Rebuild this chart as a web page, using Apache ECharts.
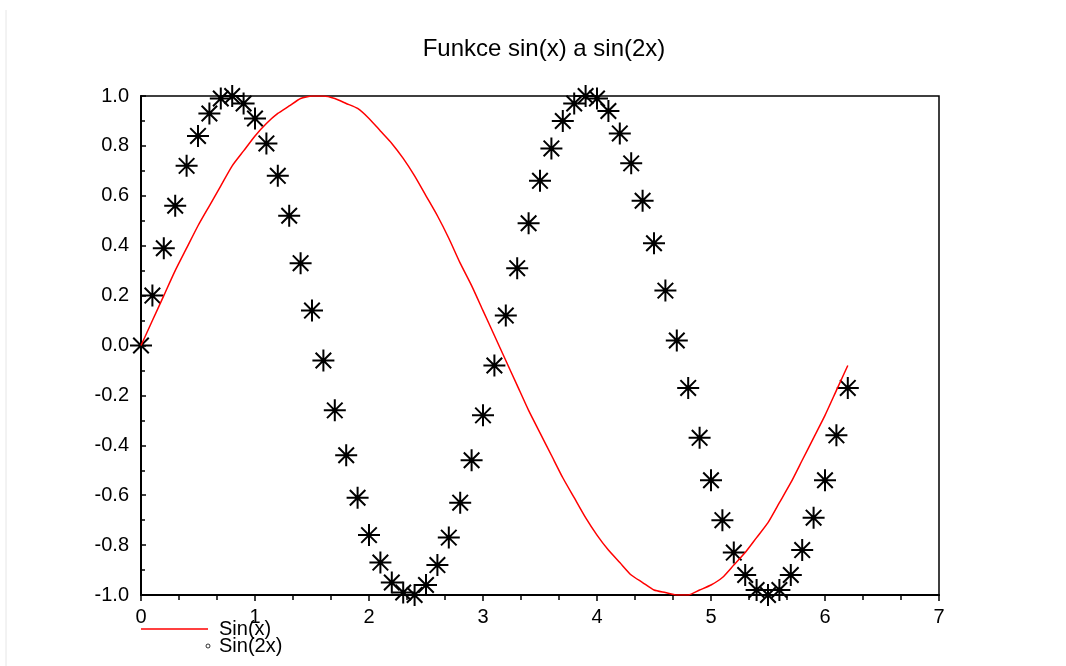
<!DOCTYPE html>
<html>
<head>
<meta charset="utf-8">
<script src="https://cdn.jsdelivr.net/npm/echarts@6/dist/echarts.min.js"></script>
<style>
  html, body { margin: 0; padding: 0; background: #fff; }
  #chart { width: 1066px; height: 666px; }
</style>
</head>
<body>
<div id="chart"></div>
<script>
// x values, step 0.1
var xs = [0.0, 0.1, 0.2, 0.3, 0.4, 0.5, 0.6, 0.7, 0.8, 0.9,
          1.0, 1.1, 1.2, 1.3, 1.4, 1.5, 1.6, 1.7, 1.8, 1.9,
          2.0, 2.1, 2.2, 2.3, 2.4, 2.5, 2.6, 2.7, 2.8, 2.9,
          3.0, 3.1, 3.2, 3.3, 3.4, 3.5, 3.6, 3.7, 3.8, 3.9,
          4.0, 4.1, 4.2, 4.3, 4.4, 4.5, 4.6, 4.7, 4.8, 4.9,
          5.0, 5.1, 5.2, 5.3, 5.4, 5.5, 5.6, 5.7, 5.8, 5.9,
          6.0, 6.1, 6.2];

// Sin(x) - red line
var sinX = [0.00, 0.10, 0.20, 0.30, 0.39, 0.48, 0.56, 0.64, 0.72, 0.78,
            0.84, 0.89, 0.93, 0.96, 0.99, 1.00, 1.00, 0.99, 0.97, 0.95,
            0.91, 0.86, 0.81, 0.75, 0.68, 0.60, 0.52, 0.43, 0.33, 0.24,
            0.14, 0.04, -0.06, -0.16, -0.26, -0.35, -0.44, -0.53, -0.61, -0.69,
            -0.76, -0.82, -0.87, -0.92, -0.95, -0.98, -0.99, -1.00, -1.00, -0.98,
            -0.96, -0.93, -0.88, -0.83, -0.77, -0.71, -0.63, -0.55, -0.46, -0.37,
            -0.28, -0.18, -0.08];

// Sin(2x) - star markers
var sin2X = [0.00, 0.20, 0.39, 0.56, 0.72, 0.84, 0.93, 0.99, 1.00, 0.97,
             0.91, 0.81, 0.68, 0.52, 0.33, 0.14, -0.06, -0.26, -0.44, -0.61,
             -0.76, -0.87, -0.95, -0.99, -1.00, -0.96, -0.88, -0.77, -0.63, -0.46,
             -0.28, -0.08, 0.12, 0.31, 0.49, 0.66, 0.79, 0.90, 0.97, 1.00,
             0.99, 0.94, 0.85, 0.73, 0.58, 0.41, 0.22, 0.02, -0.17, -0.37,
             -0.54, -0.70, -0.83, -0.92, -0.98, -1.00, -0.98, -0.92, -0.82, -0.69,
             -0.54, -0.36, -0.17];

var seriesNames = ['Sin(x)', 'Sin(2x)'];

function pairs(xv, yv) {
    var out = [];
    for (var i = 0; i < xv.length; i++) out.push([xv[i], yv[i]]);
    return out;
}

var chart = echarts.init(document.getElementById('chart'));
var font = 'Liberation Sans, Arial, sans-serif';
var star = 'path://M0,-10L0,10M-10,0L10,0M-7.07,-7.07L7.07,7.07M-7.07,7.07L7.07,-7.07';

var option = {
    animation: false,
    backgroundColor: '#fff',
    title: {
        text: 'Funkce sin(x) a sin(2x)',
        left: 539,
        textAlign: 'center',
        top: 32,
        textStyle: { fontFamily: font, fontSize: 24, fontWeight: 'normal', color: '#000' }
    },
    grid: {
        left: 141, right: 127, top: 96, bottom: 71,
        show: true, borderColor: '#000', borderWidth: 1.5, backgroundColor: 'transparent'
    },
    xAxis: {
        type: 'value', min: 0, max: 7, interval: 1,
        axisLine: { onZero: false, lineStyle: { color: '#000', width: 2 } },
        axisTick: { inside: false, length: 6, lineStyle: { color: '#000', width: 1.5 } },
        minorTick: { show: true, splitNumber: 3, length: 5, lineStyle: { color: '#000', width: 1.5 } },
        splitLine: { show: false },
        axisLabel: { fontFamily: font, fontSize: 20, color: '#000', margin: 12 }
    },
    yAxis: {
        type: 'value', min: -1, max: 1, interval: 0.2,
        axisLine: { show: true, onZero: false, lineStyle: { color: '#000', width: 2 } },
        axisTick: { show: true, inside: true, length: 5, lineStyle: { color: '#000', width: 1.5 } },
        minorTick: { show: true, splitNumber: 2, length: 4, lineStyle: { color: '#000', width: 1.5 } },
        splitLine: { show: false },
        axisLabel: {
            fontFamily: font, fontSize: 20, color: '#000', margin: 12,
            formatter: function (v) { return v.toFixed(1); }
        }
    },
    series: [
        {
            name: seriesNames[0],
            type: 'line',
            data: pairs(xs, sinX),
            showSymbol: false,
            smooth: 0.2,
            lineStyle: { color: '#ff0000', width: 1.5 },
            z: 3
        },
        {
            name: seriesNames[1],
            type: 'scatter',
            data: pairs(xs, sin2X),
            symbol: star,
            symbolSize: 22,
            itemStyle: { color: 'none', borderColor: '#000', borderWidth: 2, opacity: 1 },
            z: 2
        }
    ],
    graphic: [
        { type: 'line', shape: { x1: 6, y1: 10, x2: 6, y2: 666 }, style: { stroke: '#e6e6e6', lineWidth: 1 } },
        { type: 'line', shape: { x1: 141, y1: 629, x2: 208, y2: 629 }, style: { stroke: '#ff0000', lineWidth: 1.5 } },
        { type: 'text', left: 219, top: 619, style: { text: seriesNames[0], font: '20px ' + font, fill: '#000' } },
        { type: 'circle', shape: { cx: 208, cy: 646, r: 2 }, style: { stroke: '#000', fill: '#fff', lineWidth: 0.8 } },
        { type: 'text', left: 219, top: 636, style: { text: seriesNames[1], font: '20px ' + font, fill: '#000' } }
    ]
};

chart.setOption(option);
</script>
</body>
</html>
